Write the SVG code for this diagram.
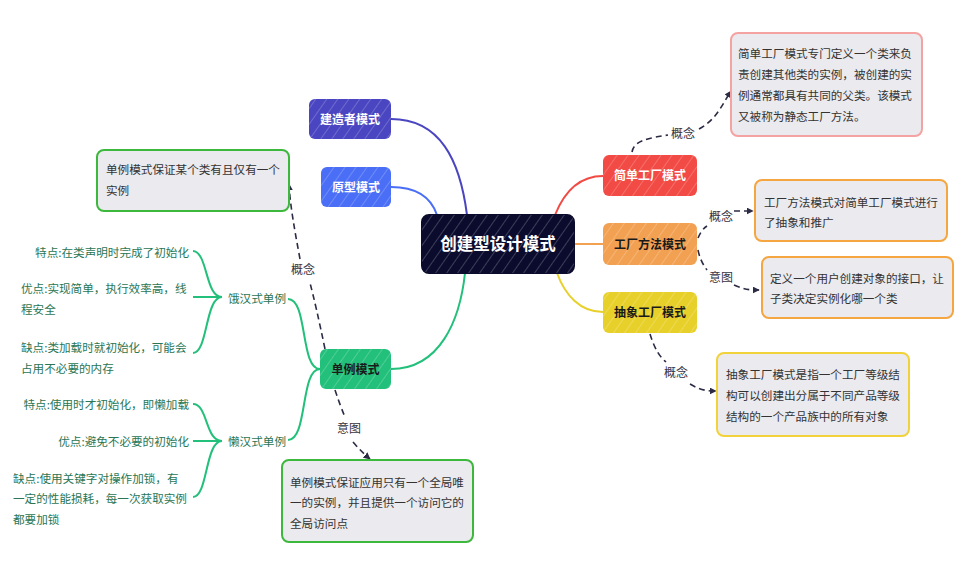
<svg xmlns="http://www.w3.org/2000/svg" width="966" height="575" viewBox="0 0 966 575">
<defs>
<pattern id="hatch" width="9" height="9" patternUnits="userSpaceOnUse" patternTransform="rotate(35)">
<line x1="0" y1="0" x2="0" y2="9" stroke="#ffffff" stroke-width="1.2" stroke-opacity="0.35"/>
</pattern>
<marker id="arr" viewBox="0 0 10 10" refX="9" refY="5" markerWidth="7" markerHeight="7" orient="auto" markerUnits="userSpaceOnUse">
<path d="M0,0 L10,5 L0,10 z" fill="#2b2b45"/>
</marker>
<style>
.t{font-family:"Noto Sans CJK SC","Noto Sans",sans-serif;}
.title{font-size:12px;font-weight:bold;}
.box{fill:#ebeaee;stroke-width:2;}
.bt{font-size:11.6px;fill:#333333;}
.leaf{font-size:11.6px;fill:#2a7655;}
.lab{font-size:12px;fill:#333344;}
.solid{fill:none;stroke-width:2;}
.dash{fill:none;stroke:#2b2b45;stroke-width:1.6;stroke-dasharray:6 4;}
</style>
</defs>
<rect width="966" height="575" fill="#ffffff"/>

<g id="connectors">
<path class="solid" stroke="#4a45c0" d="M391,119 C440,119 460,160 467,215"/>
<path class="solid" stroke="#4a6ef5" d="M391,187 C420,187 432,200 437,215"/>
<path class="solid" stroke="#f24a44" d="M555,215 C565,190 580,176 603,176"/>
<path class="solid" stroke="#f2a152" d="M574,244 L603,244"/>
<path class="solid" stroke="#e8d02a" d="M557,273 C565,295 580,312 603,312"/>
<path class="solid" stroke="#22c07a" d="M391,369 C440,369 460,320 465,273"/>
<path class="solid" stroke="#22c07a" d="M320,369 C300,369 308,299 288,299"/>
<path class="solid" stroke="#22c07a" d="M320,369 C300,369 308,440 288,440"/>
<path class="solid" stroke="#22c07a" d="M222,297 C205,297 208,252 193,251 M222,297 L193,297 M222,297 C205,297 208,353 193,353"/>
<path class="solid" stroke="#22c07a" d="M222,441 C205,441 208,404 193,404 M222,441 L193,441 M222,441 C205,441 208,497 193,497"/>

<path class="dash" d="M632,152 C634,140 650,138 668,135"/>
<path class="dash" d="M699,129 C716,120 722,105 731,91" marker-end="url(#arr)"/>
<text class="t lab" x="683" y="138" text-anchor="middle">概念</text>

<path class="dash" d="M698,238 C701,231 704,228 707,226"/>
<text class="t lab" x="721" y="221" text-anchor="middle">概念</text>
<path class="dash" d="M734,211 L753,211" marker-end="url(#arr)"/>

<path class="dash" d="M698,250 C700,260 704,266 707,270"/>
<text class="t lab" x="721" y="282" text-anchor="middle">意图</text>
<path class="dash" d="M734,285 C745,290 750,290 759,290" marker-end="url(#arr)"/>

<path class="dash" d="M650,334 C655,350 660,357 666,362"/>
<text class="t lab" x="676" y="377" text-anchor="middle">概念</text>
<path class="dash" d="M690,384 C700,390 706,391 716,391" marker-end="url(#arr)"/>

<path class="dash" d="M325,349 C319,320 314,298 310,283"/>
<text class="t lab" x="303" y="274" text-anchor="middle">概念</text>
<path class="dash" d="M300,259 C295,232 290,205 289,184" marker-end="url(#arr)"/>

<path class="dash" d="M335,390 C339,402 342,410 345,417"/>
<text class="t lab" x="349" y="433" text-anchor="middle">意图</text>
<path class="dash" d="M353,442 C359,449 364,454 370,459" marker-end="url(#arr)"/>
</g>

<g id="central">
<rect x="422" y="215" width="152" height="58" rx="7" fill="#0b0b2e" stroke="#0b0b2e" stroke-width="2"/>
<rect x="422" y="215" width="152" height="58" rx="7" fill="url(#hatch)"/>
<text class="t" x="498" y="250" text-anchor="middle" font-size="16.5" font-weight="bold" fill="#ffffff">创建型设计模式</text>
</g>

<g id="builder">
<rect x="309" y="99" width="82" height="40" rx="6" fill="#4a45c0"/>
<rect x="309" y="99" width="82" height="40" rx="6" fill="url(#hatch)"/>
<text class="t title" x="350" y="123.5" text-anchor="middle" fill="#ffffff">建造者模式</text>
</g>

<g id="prototype">
<rect x="321" y="167" width="70" height="40" rx="6" fill="#4a6ef5"/>
<rect x="321" y="167" width="70" height="40" rx="6" fill="url(#hatch)"/>
<text class="t title" x="356" y="191.5" text-anchor="middle" fill="#ffffff">原型模式</text>
</g>

<g id="simple-factory">
<rect x="603" y="155" width="94" height="41" rx="6" fill="#f24a44"/>
<rect x="603" y="155" width="94" height="41" rx="6" fill="url(#hatch)"/>
<text class="t title" x="650" y="180" text-anchor="middle" fill="#ffffff">简单工厂模式</text>
</g>

<g id="factory-method">
<rect x="603" y="223" width="94" height="42" rx="6" fill="#f2a152"/>
<rect x="603" y="223" width="94" height="42" rx="6" fill="url(#hatch)"/>
<text class="t title" x="650" y="248.5" text-anchor="middle" fill="#1a1a1a">工厂方法模式</text>
</g>

<g id="abstract-factory">
<rect x="603" y="292" width="94" height="41" rx="6" fill="#e8d02a"/>
<rect x="603" y="292" width="94" height="41" rx="6" fill="url(#hatch)"/>
<text class="t title" x="650" y="317" text-anchor="middle" fill="#1a1a1a">抽象工厂模式</text>
</g>

<g id="singleton">
<rect x="320" y="349" width="71" height="40" rx="6" fill="#22c07a"/>
<rect x="320" y="349" width="71" height="40" rx="6" fill="url(#hatch)"/>
<text class="t title" x="355.5" y="373.5" text-anchor="middle" fill="#1a1a1a">单例模式</text>
</g>

<g id="simple-factory-concept">
<rect class="box" x="731" y="33" width="191" height="103" rx="7" stroke="#f4a2a2"/>
<text class="t bt" x="738" y="57.5">简单工厂模式专门定义一个类来负</text>
<text class="t bt" x="738" y="78.5">责创建其他类的实例，被创建的实</text>
<text class="t bt" x="738" y="99.5">例通常都具有共同的父类。该模式</text>
<text class="t bt" x="738" y="120.5">又被称为静态工厂方法。</text>
</g>

<g id="factory-method-concept">
<rect class="box" x="755" y="180" width="192" height="61" rx="7" stroke="#f5a640"/>
<text class="t bt" x="764" y="206.5">工厂方法模式对简单工厂模式进行</text>
<text class="t bt" x="764" y="226.5">了抽象和推广</text>
</g>

<g id="factory-method-intent">
<rect class="box" x="762" y="257" width="191" height="61" rx="7" stroke="#f5a640"/>
<text class="t bt" x="770" y="282.5">定义一个用户创建对象的接口，让</text>
<text class="t bt" x="770" y="302.5">子类决定实例化哪一个类</text>
</g>

<g id="abstract-factory-concept">
<rect class="box" x="717" y="353" width="192" height="83" rx="7" stroke="#f2d23a"/>
<text class="t bt" x="726" y="378.5">抽象工厂模式是指一个工厂等级结</text>
<text class="t bt" x="726" y="399.5">构可以创建出分属于不同产品等级</text>
<text class="t bt" x="726" y="420.5">结构的一个产品族中的所有对象</text>
</g>

<g id="singleton-concept">
<rect class="box" x="97" y="150" width="192" height="61" rx="7" stroke="#3cb83c"/>
<text class="t bt" x="106" y="173.5">单例模式保证某个类有且仅有一个</text>
<text class="t bt" x="106" y="194.5">实例</text>
</g>

<g id="singleton-intent">
<rect class="box" x="282" y="460" width="191" height="82" rx="7" stroke="#3cb83c"/>
<text class="t bt" x="290" y="486.5">单例模式保证应用只有一个全局唯</text>
<text class="t bt" x="290" y="506.5">一的实例，并且提供一个访问它的</text>
<text class="t bt" x="290" y="527.5">全局访问点</text>
</g>

<g id="hungry">
<text class="t leaf" x="228" y="302.5">饿汉式单例</text>
</g>
<g id="hungry-feature">
<text class="t leaf" x="189" y="256.5" text-anchor="end">特点:在类声明时完成了初始化</text>
</g>
<g id="hungry-pro">
<text class="t leaf" x="21" y="292.5">优点:实现简单，执行效率高，线</text>
<text class="t leaf" x="21" y="313.5">程安全</text>
</g>
<g id="hungry-con">
<text class="t leaf" x="21" y="351.5">缺点:类加载时就初始化，可能会</text>
<text class="t leaf" x="21" y="372.5">占用不必要的内存</text>
</g>

<g id="lazy">
<text class="t leaf" x="228" y="445.5">懒汉式单例</text>
</g>
<g id="lazy-feature">
<text class="t leaf" x="189" y="408.5" text-anchor="end">特点:使用时才初始化，即懒加载</text>
</g>
<g id="lazy-pro">
<text class="t leaf" x="189" y="445.5" text-anchor="end">优点:避免不必要的初始化</text>
</g>
<g id="lazy-con">
<text class="t leaf" x="13" y="482.5">缺点:使用关键字对操作加锁，有</text>
<text class="t leaf" x="13" y="502.5">一定的性能损耗，每一次获取实例</text>
<text class="t leaf" x="13" y="524">都要加锁</text>
</g>
</svg>
